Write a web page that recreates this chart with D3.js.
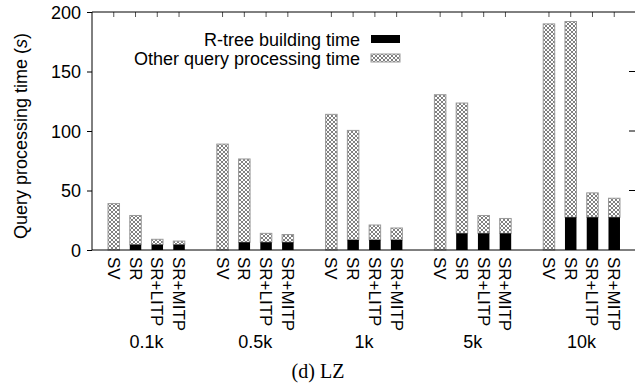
<!DOCTYPE html>
<html>
<head>
<meta charset="utf-8">
<script src="https://cdn.jsdelivr.net/npm/d3@7"></script>
<style>
  body { margin: 0; background: #fff; }
  text { font-family: "Liberation Sans", Arial, sans-serif; fill: #000; }
</style>
</head>
<body>
<div id="chart"></div>
<script>
// data
const sizes = ["0.1k", "0.5k", "1k", "5k", "10k"]
const methods = ["SV", "SR", "SR+LITP", "SR+MITP"]
const rtreeSV   = [0, 0, 0, 0, 0]
const otherSV   = [39, 89, 114, 130.5, 190]
const rtreeSR   = [4.5, 6.5, 8.5, 14, 27.5]
const otherSR   = [24.5, 70, 92, 109.5, 164.5]
const rtreeLITP = [4.5, 6.5, 8.5, 14, 27.5]
const otherLITP = [4.5, 7.5, 12.5, 15, 20.5]
const rtreeMITP = [4.5, 6.5, 8.5, 14, 27.5]
const otherMITP = [3, 6.5, 10, 12.5, 16]
const yTicks = [0, 50, 100, 150, 200]

const rtree = [rtreeSV, rtreeSR, rtreeLITP, rtreeMITP]
const other = [otherSV, otherSR, otherLITP, otherMITP]

const W = 635, H = 388
const margin = { left: 92, right: 636, top: 12, bottom: 250 }
const slotsPerGroup = methods.length + 1
const barW = 11.5

const svg = d3.select("#chart").append("svg")
  .attr("width", W).attr("height", H)

// crosshatch pattern
const pat = svg.append("defs").append("pattern")
  .attr("id", "hatch")
  .attr("patternUnits", "userSpaceOnUse")
  .attr("width", 4).attr("height", 4)
pat.append("rect").attr("width", 4).attr("height", 4).attr("fill", "#fff")
pat.append("path").attr("d", "M0,0L4,4M4,0L0,4")
  .attr("stroke", "#555").attr("stroke-width", 0.75)

const x = d3.scaleLinear().domain([-1, 24]).range([margin.left, margin.right])
const y = d3.scaleLinear().domain([0, 200]).range([margin.bottom, margin.top])

// flatten into bar records
let bars = []
sizes.forEach((s, g) => {
  methods.forEach((m, b) => {
    bars.push({ slot: g * slotsPerGroup + b, method: m, size: s,
                rtree: rtree[b][g], other: other[b][g] })
  })
})

// y axis left (ticks outward)
svg.append("g")
  .attr("transform", "translate(" + margin.left + ",0)")
  .call(d3.axisLeft(y).tickValues(yTicks).tickSize(5).tickPadding(6).tickFormat(d3.format("d")))
  .call(g => g.select(".domain").remove())
  .call(g => g.selectAll("line").attr("stroke", "#000"))
  .call(g => g.selectAll("text").style("font-size", "18px").attr("dy", "0.36em"))

// right mirror ticks
svg.append("g").selectAll("line")
  .data(yTicks.slice(1, -1))
  .join("line")
  .attr("x1", margin.right - 7).attr("x2", margin.right)
  .attr("y1", d => y(d)).attr("y2", d => y(d))
  .attr("stroke", "#000")

// top mirror ticks at each bar
svg.append("g").selectAll("line")
  .data(bars)
  .join("line")
  .attr("x1", d => x(d.slot)).attr("x2", d => x(d.slot))
  .attr("y1", margin.top).attr("y2", margin.top + 5)
  .attr("stroke", "#555")

// bars: other time (hatched), stacked on r-tree time (black)
svg.append("g").selectAll("rect")
  .data(bars)
  .join("rect")
  .attr("x", d => x(d.slot) - barW / 2)
  .attr("width", barW)
  .attr("y", d => y(d.rtree + d.other))
  .attr("height", d => y(d.rtree) - y(d.rtree + d.other))
  .attr("fill", "url(#hatch)")
  .attr("stroke", "#999")
  .attr("stroke-width", 1)

svg.append("g").selectAll("rect")
  .data(bars.filter(d => d.rtree > 0))
  .join("rect")
  .attr("x", d => x(d.slot) - barW / 2)
  .attr("width", barW)
  .attr("y", d => y(d.rtree))
  .attr("height", d => y(0) - y(d.rtree))
  .attr("fill", "#000")

// frame
svg.append("path")
  .attr("d", "M" + margin.right + "," + margin.top + "H" + margin.left + "V" + margin.bottom + "H" + margin.right)
  .attr("fill", "none").attr("stroke", "#000").attr("stroke-width", 1)

// rotated method labels
svg.append("g").selectAll("text")
  .data(bars)
  .join("text")
  .attr("transform", d => "translate(" + (x(d.slot) - 6) + "," + (margin.bottom + 7) + ") rotate(90)")
  .style("font-size", "17px")
  .text(d => d.method)

// group labels
svg.append("g").selectAll("text")
  .data(sizes)
  .join("text")
  .attr("x", (d, i) => x(i * slotsPerGroup + (methods.length - 1) / 2))
  .attr("y", 348)
  .attr("text-anchor", "middle")
  .style("font-size", "18px")
  .text(d => d)

// y title
const yt = svg.append("text")
  .attr("transform", "translate(27," + 136 + ") rotate(-90)")
  .attr("text-anchor", "middle")
  .style("font-size", "18px")
yt.append("tspan").text("Query processing time (")
yt.append("tspan").style("font-style", "italic").text("s")
yt.append("tspan").text(")")

// legend
const legend = [{ label: "R-tree building time", fill: "#000" },
                { label: "Other query processing time", fill: "url(#hatch)" }]
const lg = svg.append("g")
lg.selectAll("text").data(legend).join("text")
  .attr("x", 360).attr("y", (d, i) => 46 + i * 19)
  .attr("text-anchor", "end")
  .style("font-size", "18px")
  .text(d => d.label)
lg.selectAll("rect").data(legend).join("rect")
  .attr("x", 371).attr("width", 29)
  .attr("y", (d, i) => 35 + i * 19)
  .attr("height", 8)
  .attr("fill", d => d.fill)
  .attr("stroke", (d, i) => i ? "#999" : "none")

// caption
svg.append("text")
  .attr("x", 318).attr("y", 378)
  .attr("text-anchor", "middle")
  .style("font-family", "'Liberation Serif', 'Times New Roman', serif")
  .style("font-size", "20px")
  .text("(d) LZ")
</script>
</body>
</html>
